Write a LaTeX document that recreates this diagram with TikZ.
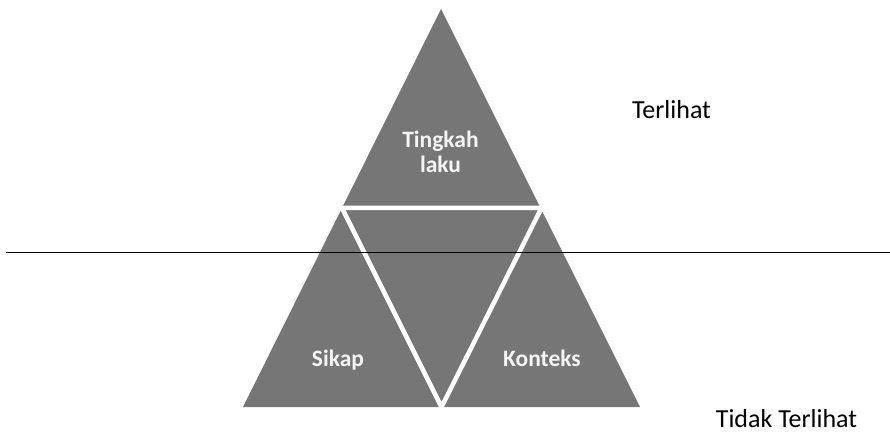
\documentclass[tikz,border=0pt]{standalone}
\usepackage{fontspec}
\setmainfont{Carlito}
\definecolor{pyramidgray}{HTML}{767676}
\definecolor{labelwhite}{HTML}{F4F4F4}
\begin{document}
\begin{tikzpicture}[x=1pt,y=-1pt,
  outer/.style={font=\fontsize{26}{30}\selectfont, text=black, inner sep=0pt, anchor=base},
  inner/.style={font=\bfseries\fontsize{23.5}{25}\selectfont, text=labelwhite, inner sep=0pt, align=center},
  divider/.style={draw=white, line width=4.5pt},
  waterline/.style={draw=black, line width=1.6pt}]
\useasboundingbox (0,0) rectangle (890,435);
% corners of the pyramid and midpoints of its sides
\coordinate (apex) at (441,9);
\coordinate (bl) at (243,407);
\coordinate (br) at (640,407);
\coordinate (ml) at (342,208);
\coordinate (mr) at (541.5,208);
\coordinate (mb) at (441.5,407);
\fill[pyramidgray] (apex) -- (bl) -- (br) -- cycle;
% white gaps splitting the pyramid into four triangles
\draw[divider] (ml) -- (mr) -- (mb) -- cycle;
% water line
\coordinate (wl) at (6,252.5);
\coordinate (wr) at (890,252.5);
\draw[waterline] (wl) -- (wr);
% labels
\node[inner, anchor=north] (tingkah) at (440.5,131) {Tingkah\\laku};
\node[inner, anchor=base] (sikap) at (338,366) {Sikap};
\node[inner, anchor=base] (konteks) at (542,366) {Konteks};
\node[outer] (terlihat) at (671.5,119) {Terlihat};
\node[outer] (tidak) at (786.5,427) {Tidak Terlihat};
\end{tikzpicture}
\end{document}
